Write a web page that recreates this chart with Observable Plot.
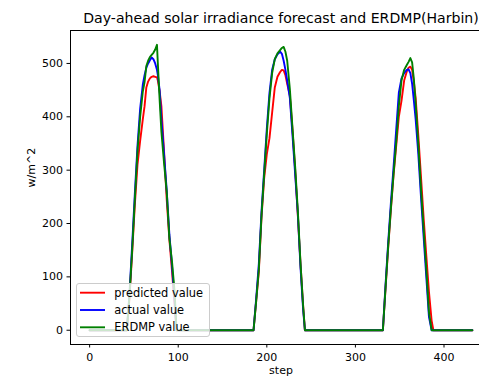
<!DOCTYPE html>
<html><head><meta charset="utf-8">
<script src="https://cdn.jsdelivr.net/npm/d3@7"></script>
<script src="https://cdn.jsdelivr.net/npm/@observablehq/plot@0.6"></script>
<style>
html,body{margin:0;padding:0;background:#fff;overflow:hidden}
#wrap{position:relative;width:479px;height:377px;overflow:hidden}
#wrap > svg{max-width:none !important}
#legend{position:absolute;left:76px;top:283px;width:134px;height:54px;border:1px solid #cccccc;border-radius:3px;background:rgba(255,255,255,0.8);box-sizing:border-box}
</style></head><body><div id="wrap"></div>
<script>
const steps = [0,42,45,48,51,54,57,60,62,64,66,68,70,72,74,76,77,79,81,84,87,90,93,96,98,
  185,188,191,194,197,200,203,206,209,212,215,217,219,221,223,226,229,232,235,238,241,243,
  331,334,337,340,343,346,349,352,355,358,360,362,364,366,368,371,374,377,380,383,386,388,432];
const predicted = [0,0,60,145,235,310,355,395,420,455,466,472,475,476,475,474,468,448,420,335,245,170,110,45,0,
  0,55,110,212,285,330,360,408,455,475,484,488,487,478,462,440,375,300,215,125,45,0,
  0,78,155,225,290,345,400,430,468,485,492,494,488,465,435,365,288,210,140,72,18,0,0];
const actual = [0,0,70,160,255,345,415,460,478,492,500,506,511,508,500,488,478,450,395,330,262,180,120,55,0,
  0,60,125,222,300,378,445,488,508,517,522,518,505,488,468,435,365,292,218,118,38,0,
  0,85,165,238,305,375,445,472,482,488,489,482,462,430,395,330,250,175,100,25,0,0,0];
const erdmp = [0,0,65,150,245,335,400,447,465,495,505,512,516,520,526,535,500,432,372,313,260,172,128,70,0,
  0,55,115,215,293,368,435,482,508,519,525,529,531,522,505,452,378,306,224,126,45,0,
  0,80,158,228,292,352,420,468,488,497,503,510,502,470,425,348,265,190,115,34,0,0,0];
const xTicks = [0,100,200,300,400];
const yTicks = [0,100,200,300,400,500];
const seriesNames = ["predicted value","actual value","ERDMP value"];
const seriesColors = ["#ff0000","#0000ff","#008000"];
const seriesValues = [predicted, actual, erdmp];
const titleText = "Day-ahead solar irradiance forecast and ERDMP(Harbin)";
const xLabel = "step";
const yLabel = "w/m^2";

const xMin = d3.min(steps), xMax = d3.max(steps);
const xPad = (xMax - xMin) * 0.05;
const allVals = seriesValues.flat();
const yMin = d3.min(allVals), yMax = d3.max(allVals);
const yPad = (yMax - yMin) * 0.05;

const lineMarks = seriesValues.map((vals, k) =>
  Plot.line(steps, {x: d => d, y: (d, i) => vals[i], stroke: seriesColors[k], strokeWidth: 1.9})
);

const chart = Plot.plot({
  width: 491, height: 377,
  marginLeft: 70, marginRight: 0, marginTop: 30, marginBottom: 33,
  style: {fontFamily: "DejaVu Sans", fontSize: "11px", color: "#000", background: "#fff", maxWidth: "none"},
  x: {domain: [xMin - xPad, xMax + xPad]},
  y: {domain: [yMin - yPad, yMax + yPad]},
  marks: [
    ...lineMarks,
    Plot.frame({stroke: "#000", strokeWidth: 1}),
    Plot.axisX({ticks: xTicks, tickSize: 3.5, tickPadding: 5.5, label: null, tickFormat: d => String(d)}),
    Plot.axisY({ticks: yTicks, tickSize: 3.5, tickPadding: 4, label: null, tickFormat: d => String(d)}),
    Plot.text([titleText], {frameAnchor: "top", lineAnchor: "bottom", dy: -7.3, fontSize: 14.1, fill: "#000", text: d => d}),
    Plot.text([xLabel], {frameAnchor: "bottom", lineAnchor: "bottom", dy: 29.5, fontSize: 11, fill: "#000", text: d => d}),
    Plot.text([yLabel], {frameAnchor: "left", lineAnchor: "bottom", rotate: -90, dx: -35.5, fontSize: 11, fill: "#000", text: d => d})
  ]
});
const wrap = document.getElementById("wrap");
wrap.appendChild(chart);

// legend overlay
const leg = document.createElement("div");
leg.id = "legend";
wrap.appendChild(leg);
const lsvg = d3.select(leg).append("svg").attr("width", 132).attr("height", 52)
  .style("position", "absolute").style("left", "0px").style("top", "0px");
seriesNames.forEach((name, k) => {
  const cy = 8.7 + k * 17.3;
  lsvg.append("line").attr("x1", 3).attr("x2", 28).attr("y1", cy).attr("y2", cy)
    .attr("stroke", seriesColors[k]).attr("stroke-width", 1.9);
  lsvg.append("text").attr("x", 37.3).attr("y", cy).attr("dy", "0.35em")
    .attr("font-family", "DejaVu Sans").attr("font-size", 11.4).attr("fill", "#000").text(name);
});
</script>
</body></html>
